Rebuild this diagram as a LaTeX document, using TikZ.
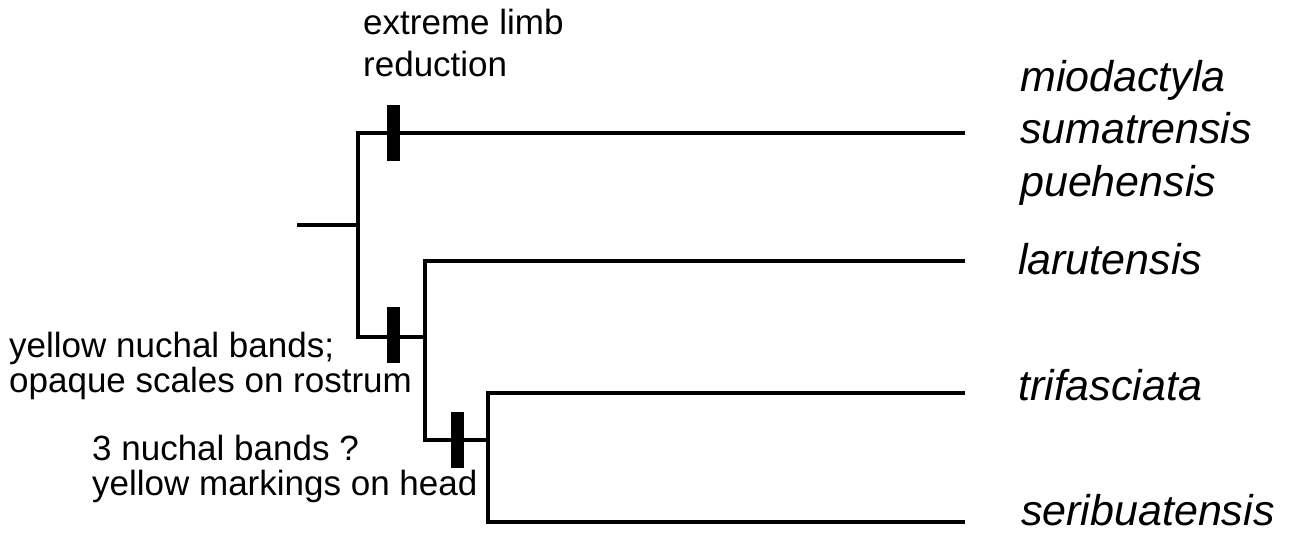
\documentclass[tikz,border=0pt]{standalone}
\usepackage{fontspec}
\setmainfont{Liberation Sans}
\begin{document}
\begin{tikzpicture}[x=1pt,y=-1pt,
  branch/.style={line width=3.8pt},
  charbar/.style={fill=black, draw=none, inner sep=0pt, minimum width=13pt, minimum height=56pt},
  lbl/.style={anchor=base west, inner sep=0pt, font=\fontsize{35}{35}\selectfont},
  taxon/.style={anchor=base west, inner sep=0pt, font=\fontsize{43}{52}\selectfont\itshape}]
\useasboundingbox (0,0) rectangle (1291,540);
% tree coordinates
\coordinate (root) at (297,225);
\coordinate (n1) at (358,225);
\coordinate (n1t) at (358,133);
\coordinate (n1b) at (358,337);
\coordinate (n2) at (425,337);
\coordinate (n2t) at (425,261);
\coordinate (n2b) at (425,440);
\coordinate (n3) at (488,440);
\coordinate (n3t) at (488,393);
\coordinate (n3b) at (488,522);
\coordinate (tipA) at (965,133);
\coordinate (tipB) at (965,261);
\coordinate (tipC) at (965,393);
\coordinate (tipD) at (965,522);
% branches
\draw[branch] (root) -- (n1);
\draw[branch] (tipA) -- (n1t) -- (n1b) -- (n2);
\draw[branch] (tipB) -- (n2t) -- (n2b) -- (n3);
\draw[branch] (tipC) -- (n3t) -- (n3b) -- (tipD);
% character bars
\node[charbar] (bar1) at (393,133) {};
\node[charbar] (bar2) at (393,335) {};
\node[charbar] (bar3) at (457,440) {};
% character labels
\node[lbl] (ext1) at (363,35) {extreme limb};
\node[lbl] (ext2) at (363,77) {reduction};
\node[lbl] (yel1) at (9,357) {yellow nuchal bands;};
\node[lbl] (yel2) at (9,392) {opaque scales on rostrum};
\node[lbl] (nuc1) at (92,460) {3 nuchal bands ?};
\node[lbl] (nuc2) at (92,495) {yellow markings on head};
% taxa
\node[taxon] (mio) at (1020,92) {miodactyla};
\node[taxon] (sum) at (1020,144) {sumatrensis};
\node[taxon] (pue) at (1020,197) {puehensis};
\node[taxon] (lar) at (1018,275) {larutensis};
\node[taxon] (tri) at (1018,400) {trifasciata};
\node[taxon] (ser) at (1021,525) {seribuatensis};
\end{tikzpicture}
\end{document}
